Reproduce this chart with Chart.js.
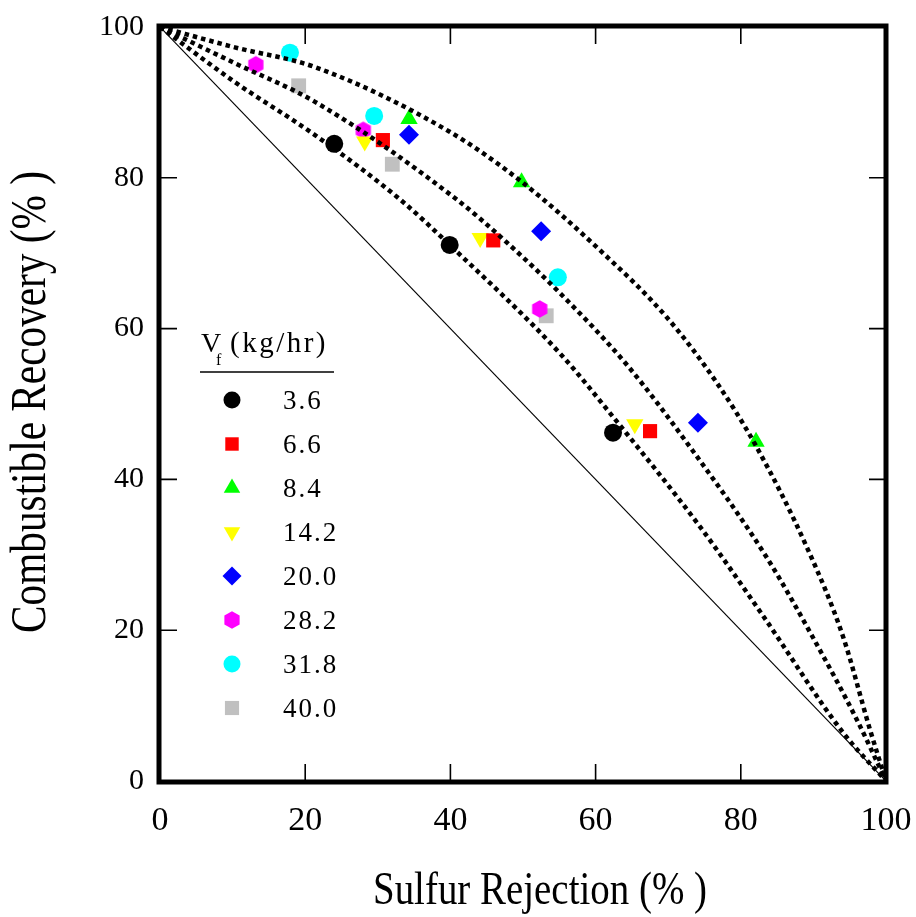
<!DOCTYPE html>
<html>
<head>
<meta charset="utf-8">
<script src="https://cdn.jsdelivr.net/npm/chart.js@4/dist/chart.umd.min.js"></script>
<style>
  html, body { margin: 0; padding: 0; background: #fff; }
  #wrap { width: 916px; height: 917px; }
</style>
</head>
<body>
<div id="wrap"><canvas id="recoveryChart" width="916" height="917"></canvas></div>
<script>
/* ==============================
   Data
============================== */
const feedRates = ['3.6', '6.6', '8.4', '14.2', '20.0', '28.2', '31.8', '40.0'];

// sulfur rejection (%) per feed rate
const sulfurRejection = [
    [24.0, 39.9, 62.4],
    [30.7, 45.9, 67.5],
    [34.3, 49.8, 82.1],
    [28.2, 44.1, 65.4],
    [34.3, 52.5, 74.1],
    [13.2, 28.0, 52.3],
    [17.9, 29.5, 54.8],
    [19.1, 32.0, 53.2]
];

// combustible recovery (%) per feed rate
const combustibleRecovery = [
    [84.5, 71.1, 46.2],
    [85.0, 71.7, 46.4],
    [87.8, 79.4, 45.0],
    [84.8, 72.0, 47.3],
    [85.7, 72.9, 47.5],
    [95.0, 86.3, 62.6],
    [96.6, 88.2, 66.8],
    [92.2, 81.8, 61.7]
];

// separation curves (dotted)
const outerRej = [0, 10.3, 21.3, 39.9, 49.9, 60.6, 69.8, 76.7, 82.0, 89.1, 94.1, 97.8, 100];
const outerRec = [100, 97.3, 94.7, 86.1, 79.4, 70.4, 61.5, 52.8, 44.6, 31.0, 19.1, 6.8, 0];
const middleRej = [0, 10.3, 21.3, 40.9, 47.8, 55.1, 64.3, 73.0, 83.6, 89.9, 96.0, 100];
const middleRec = [100, 95.2, 90.1, 77.1, 71.4, 64.7, 55.2, 44.3, 29.6, 19.1, 8.1, 0];
const innerRej = [0, 10.3, 21.3, 33.1, 39.9, 55.1, 62.4, 74.4, 83.0, 94.1, 100];
const innerRec = [100, 92.7, 85.7, 77.1, 71.1, 56.7, 48.3, 33.7, 22.0, 6.4, 0];

// no-separation line
const diagRej = [0, 100];
const diagRec = [100, 0];

const axisTicks = [0, 20, 40, 60, 80, 100];

/* ==============================
   Marker styles
============================== */
function hexagon(color, r) {
    const c = document.createElement('canvas');
    c.width = Math.ceil(r * 2 + 2);
    c.height = Math.ceil(r * 2 + 2);
    const g = c.getContext('2d');
    g.fillStyle = color;
    g.beginPath();
    for (let i = 0; i < 6; i++) {
        const a = -Math.PI / 2 + i * Math.PI / 3;
        const px = c.width / 2 + r * Math.cos(a);
        const py = c.height / 2 + r * Math.sin(a);
        i ? g.lineTo(px, py) : g.moveTo(px, py);
    }
    g.closePath();
    g.fill();
    return c;
}

const markerColors = ['#000000', '#ff0000', '#00ff00', '#ffff00', '#0000ff', '#ff00ff', '#00ffff', '#c0c0c0'];
const markerStyles = [
    { pointStyle: 'circle', radius: 9, rotation: 0 },
    { pointStyle: 'rect', radius: 10, rotation: 0 },
    { pointStyle: 'triangle', radius: 10, rotation: 0 },
    { pointStyle: 'triangle', radius: 10, rotation: 180 },
    { pointStyle: 'rectRot', radius: 10, rotation: 0 },
    { pointStyle: hexagon('#ff00ff', 8.8), radius: 9, rotation: 0 },
    { pointStyle: 'circle', radius: 9, rotation: 0 },
    { pointStyle: 'rect', radius: 10.5, rotation: 0 }
];

const toPoints = (xs, ys) => xs.map((x, i) => ({ x, y: ys[i] }));

function curve(xs, ys) {
    return {
        data: toPoints(xs, ys),
        showLine: true,
        borderColor: '#000',
        borderWidth: 4.5,
        borderDash: [4.5, 4],
        borderCapStyle: 'butt',
        cubicInterpolationMode: 'monotone',
        pointRadius: 0,
        fill: false,
        order: 0
    };
}

const datasets = [
    curve(outerRej, outerRec),
    curve(middleRej, middleRec),
    curve(innerRej, innerRec),
    {
        data: toPoints(diagRej, diagRec),
        showLine: true,
        borderColor: '#000',
        borderWidth: 1.2,
        pointRadius: 0,
        order: 0
    }
];

feedRates.forEach((label, i) => {
    datasets.push({
        label: label,
        data: toPoints(sulfurRejection[i], combustibleRecovery[i]),
        showLine: false,
        pointStyle: markerStyles[i].pointStyle,
        pointRadius: markerStyles[i].radius,
        pointRotation: markerStyles[i].rotation,
        pointBackgroundColor: markerColors[i],
        pointBorderWidth: 0,
        pointBorderColor: 'rgba(0,0,0,0)',
        order: 1
    });
});

/* ==============================
   Frame, inner ticks, titles, key
============================== */
function squeezedText(ctx, text, cx, cy, font, targetWidth, angle) {
    ctx.save();
    ctx.font = font;
    const w = ctx.measureText(text).width;
    ctx.translate(cx, cy);
    ctx.rotate(angle);
    ctx.scale(targetWidth / w, 1);
    ctx.textAlign = 'center';
    ctx.textBaseline = 'middle';
    ctx.fillStyle = '#000';
    ctx.fillText(text, 0, 0);
    ctx.restore();
}

const framePlugin = {
    id: 'frame',
    afterDraw(chart) {
        const { ctx, chartArea: a, scales } = chart;
        const xs = scales.x, ys = scales.y;
        ctx.save();

        // tick marks pointing inward on all four sides
        ctx.strokeStyle = '#000';
        ctx.lineWidth = 1.6;
        const len = 17;
        axisTicks.slice(1, -1).forEach(v => {
            const px = xs.getPixelForValue(v);
            const py = ys.getPixelForValue(v);
            ctx.beginPath();
            ctx.moveTo(px, a.bottom); ctx.lineTo(px, a.bottom - len);
            ctx.moveTo(px, a.top); ctx.lineTo(px, a.top + len);
            ctx.moveTo(a.left, py); ctx.lineTo(a.left + len, py);
            ctx.moveTo(a.right, py); ctx.lineTo(a.right - len, py);
            ctx.stroke();
        });

        // heavy box
        ctx.lineWidth = 5;
        ctx.strokeRect(a.left - 1, a.top - 1, a.right - a.left + 1, a.bottom - a.top + 2);

        // axis titles
        squeezedText(ctx, 'Sulfur Rejection (% )', 540, 892, '46px "Liberation Serif"', 334, 0);
        squeezedText(ctx, 'Combustible Recovery (% )', 32, 402, '50px "Liberation Serif"', 462, -Math.PI / 2);

        // key
        ctx.fillStyle = '#000';
        ctx.textBaseline = 'alphabetic';
        ctx.textAlign = 'left';
        ctx.font = '28px "Liberation Serif"';
        ctx.fillText('V', 201, 352);
        ctx.font = '16px "Liberation Serif"';
        ctx.fillText('f', 216, 365);
        ctx.font = '29px "Liberation Serif"';
        ctx.letterSpacing = '2.5px';
        ctx.fillText('(kg/hr)', 230, 352);
        ctx.letterSpacing = '0px';
        ctx.lineWidth = 1.6;
        ctx.beginPath();
        ctx.moveTo(200, 372);
        ctx.lineTo(334, 372);
        ctx.stroke();

        ctx.textBaseline = 'middle';
        ctx.letterSpacing = '2px';
        feedRates.forEach((label, i) => {
            const y = 400 + i * 44;
            const m = markerStyles[i];
            ctx.fillStyle = markerColors[i];
            Chart.helpers.drawPoint(ctx, {
                pointStyle: m.pointStyle,
                radius: m.radius - 0.5,
                rotation: m.rotation,
                borderWidth: 0
            }, 232, y);
            ctx.fillStyle = '#000';
            ctx.font = '27px "Liberation Serif"';
            ctx.fillText(label, 283, y + 2);
        });
        ctx.restore();
    }
};

/* ==============================
   Chart
============================== */
new Chart(document.getElementById('recoveryChart'), {
    type: 'scatter',
    data: { datasets },
    options: {
        responsive: false,
        animation: false,
        layout: { padding: { left: 0, top: 27, right: 30, bottom: 0 } },
        scales: {
            x: {
                type: 'linear',
                min: 0, max: 100,
                afterFit: s => {
                    s.height = 136;
                    s.paddingLeft = 0;
                    s.paddingRight = 0;
                },
                afterBuildTicks: s => { s.ticks = axisTicks.map(v => ({ value: v })); },
                grid: { display: false, drawTicks: false },
                border: { display: false },
                ticks: {
                    color: '#000',
                    padding: 20,
                    maxRotation: 0,
                    font: { family: 'Liberation Serif', size: 34 }
                }
            },
            y: {
                type: 'linear',
                min: 0, max: 100,
                afterFit: s => {
                    s.width = 160;
                    s.paddingTop = 0;
                    s.paddingBottom = 0;
                },
                afterBuildTicks: s => { s.ticks = axisTicks.map(v => ({ value: v })); },
                grid: { display: false, drawTicks: false },
                border: { display: false },
                ticks: {
                    color: '#000',
                    padding: 16,
                    font: { family: 'Liberation Serif', size: 30 }
                }
            }
        },
        plugins: {
            legend: { display: false },
            tooltip: { enabled: false }
        }
    },
    plugins: [framePlugin]
});
</script>
</body>
</html>
